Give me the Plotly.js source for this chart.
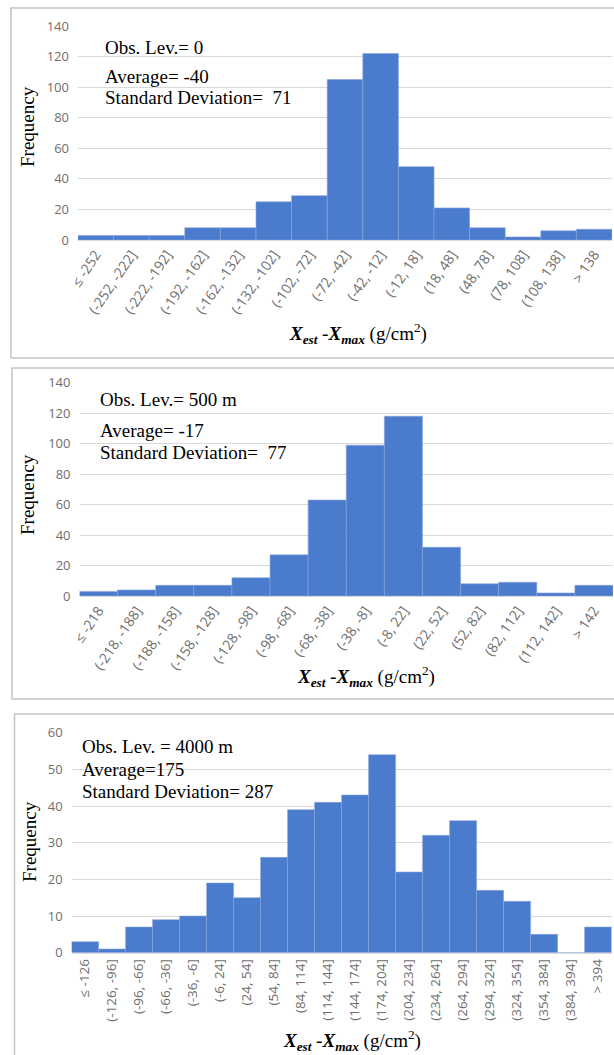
<!DOCTYPE html>
<html>
<head>
<meta charset="utf-8">
<script src="https://cdn.plot.ly/plotly-3.0.1.min.js"></script>
<style>
html,body{margin:0;padding:0;background:#fff;}
#chart{width:614px;height:1055px;}
</style>
</head>
<body>
<div id="chart"></div>
<script>
// Panel 1: Obs. Lev. = 0
const cats1 = ["≤ -252","(-252, -222]","(-222, -192]","(-192, -162]","(-162, -132]","(-132, -102]","(-102, -72]","(-72, -42]","(-42, -12]","(-12, 18]","(18, 48]","(48, 78]","(78, 108]","(108, 138]","> 138"];
const freq1 = [3, 3, 3, 8, 8, 25, 29, 105, 122, 48, 21, 8, 2, 6, 7];
const stats1 = ["Obs. Lev.= 0", "Average= -40", "Standard Deviation=\u00a0\u00a071"];

// Panel 2: Obs. Lev. = 500 m
const cats2 = ["≤ -218","(-218, -188]","(-188, -158]","(-158, -128]","(-128, -98]","(-98, -68]","(-68, -38]","(-38, -8]","(-8, 22]","(22, 52]","(52, 82]","(82, 112]","(112, 142]","> 142"];
const freq2 = [3, 4, 7, 7, 12, 27, 63, 99, 118, 32, 8, 9, 2, 7];
const stats2 = ["Obs. Lev.= 500 m", "Average= -17", "Standard Deviation=\u00a0\u00a077"];

// Panel 3: Obs. Lev. = 4000 m
const cats3 = ["≤ -126","(-126, -96]","(-96, -66]","(-66, -36]","(-36, -6]","(-6, 24]","(24, 54]","(54, 84]","(84, 114]","(114, 144]","(144, 174]","(174, 204]","(204, 234]","(234, 264]","(264, 294]","(294, 324]","(324, 354]","(354, 384]","(384, 394]","> 394"];
const freq3 = [3, 1, 7, 9, 10, 19, 15, 26, 39, 41, 43, 54, 22, 32, 36, 17, 14, 5, 0, 7];
const stats3 = ["Obs. Lev. = 4000 m", "Average=175", "Standard Deviation= 287"];

const yTitle = "Frequency";
const xTitle = "<b><i>X</i></b><sub><b><i>est</i></b></sub><b><i> -X</i></b><sub><b><i>max</i></b></sub> (g/cm<sup>2</sup>)";

const W = 614, H = 1055;
const px = v => v / W;
const py = v => 1 - v / H;

const BAR = "#4a7bcc";
const serif = "Liberation Serif, Times New Roman, serif";
const sans = "Open Sans, Calibri, sans-serif";
const tickColor = "#6e6e6e";

function barTrace(cats, vals, xa, ya) {
  return {
    type: "bar", x: cats, y: vals, xaxis: xa, yaxis: ya,
    marker: {color: BAR, line: {color: "#86a6dc", width: 0.6}},
    hoverinfo: "x+y", showlegend: false
  };
}

const data = [
  barTrace(cats1, freq1, "x", "y"),
  barTrace(cats2, freq2, "x2", "y2"),
  barTrace(cats3, freq3, "x3", "y3")
];

function xaxisDef(domain, cats, angle, size) {
  return {
    domain: domain, type: "category", range: [-0.5, cats.length - 0.5],
    tickangle: angle, tickfont: {family: sans, size: size, color: tickColor},
    showgrid: false, showline: true, linecolor: "#d9d9d9", linewidth: 1,
    ticks: "", zeroline: false, fixedrange: true
  };
}
function yaxisDef(domain, anchor, max, dtick) {
  return {
    domain: domain, anchor: anchor, range: [0, max], dtick: dtick,
    tickfont: {family: sans, size: 13, color: tickColor},
    gridcolor: "#d9d9d9", gridwidth: 1, showline: false, zeroline: false,
    ticks: "", ticklabelstandoff: 8, fixedrange: true
  };
}

const layout = {
  width: W, height: H,
  margin: {l: 0, r: 0, t: 0, b: 0},
  paper_bgcolor: "#ffffff", plot_bgcolor: "#ffffff",
  bargap: 0,
  showlegend: false,
  xaxis: Object.assign(xaxisDef([px(78), px(612)], cats1, -56, 14), {anchor: "y"}),
  yaxis: yaxisDef([py(240), py(26)], "x", 140, 20),
  xaxis2: Object.assign(xaxisDef([px(79.5), px(613)], cats2, -56, 14), {anchor: "y2"}),
  yaxis2: yaxisDef([py(596), py(382.7)], "x2", 140, 20),
  xaxis3: Object.assign(xaxisDef([px(71.6), px(611.6)], cats3, -90, 13.5), {anchor: "y3"}),
  yaxis3: yaxisDef([py(952.7), py(732.7)], "x3", 60, 10),
  shapes: [
    {type: "rect", xref: "paper", yref: "paper", x0: px(11), x1: 1.01, y0: py(358), y1: py(8), line: {color: "#c4c4c4", width: 1.5}, fillcolor: "rgba(0,0,0,0)", layer: "below"},
    {type: "rect", xref: "paper", yref: "paper", x0: px(12), x1: 1.01, y0: py(699), y1: py(368), line: {color: "#c4c4c4", width: 1.5}, fillcolor: "rgba(0,0,0,0)", layer: "below"},
    {type: "rect", xref: "paper", yref: "paper", x0: px(14.5), x1: 1.01, y0: -0.02, y1: py(714), line: {color: "#c4c4c4", width: 1.5}, fillcolor: "rgba(0,0,0,0)", layer: "below"}
  ],
  annotations: []
};

function statAnn(text, x, y) {
  return {xref: "paper", yref: "paper", x: x, y: y, xanchor: "left", yanchor: "middle",
    text: text, showarrow: false, font: {family: serif, size: 19, color: "#000"}};
}
function yTitleAnn(x, y) {
  return {xref: "paper", yref: "paper", x: x, y: y, xanchor: "center", yanchor: "middle",
    text: yTitle, textangle: -90, showarrow: false, font: {family: serif, size: 19, color: "#000"}};
}
function xTitleAnn(x, y) {
  return {xref: "paper", yref: "paper", x: x, y: y, xanchor: "center", yanchor: "middle",
    text: xTitle, showarrow: false, font: {family: serif, size: 19, color: "#000"}};
}

// Panel 1 texts
layout.annotations.push(statAnn(stats1[0], px(103), py(47)));
layout.annotations.push(statAnn(stats1[1], px(103), py(77)));
layout.annotations.push(statAnn(stats1[2], px(103), py(98)));
layout.annotations.push(yTitleAnn(px(27), py(127)));
layout.annotations.push(xTitleAnn(px(358), py(333)));
// Panel 2 texts
layout.annotations.push(statAnn(stats2[0], px(98), py(400)));
layout.annotations.push(statAnn(stats2[1], px(98), py(430)));
layout.annotations.push(statAnn(stats2[2], px(98), py(452)));
layout.annotations.push(yTitleAnn(px(27), py(495)));
layout.annotations.push(xTitleAnn(px(366), py(676)));
// Panel 3 texts
layout.annotations.push(statAnn(stats3[0], px(80), py(746)));
layout.annotations.push(statAnn(stats3[1], px(80), py(769)));
layout.annotations.push(statAnn(stats3[2], px(80), py(791)));
layout.annotations.push(yTitleAnn(px(29), py(842)));
layout.annotations.push(xTitleAnn(px(352), py(1040)));

Plotly.newPlot("chart", data, layout, {displayModeBar: false, staticPlot: true});
</script>
</body>
</html>
